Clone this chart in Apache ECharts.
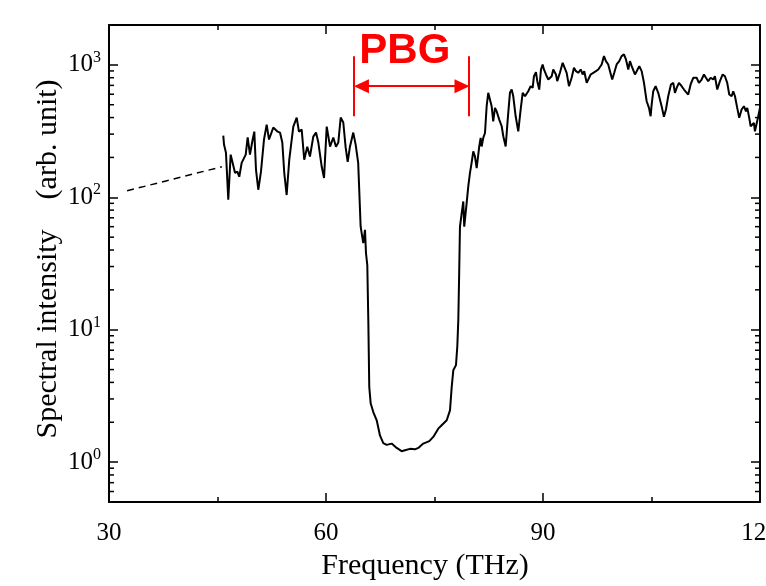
<!DOCTYPE html>
<html>
<head>
<meta charset="utf-8">
<script src="https://cdn.jsdelivr.net/npm/echarts@6/dist/echarts.min.js"></script>
<style>
  html, body { margin: 0; padding: 0; background: #fff; }
  #main { width: 766px; height: 586px; }
</style>
</head>
<body>
<div id="main"></div>
<script>
// measured spectrum (THz, arb. unit)
var freq = [
  45.80, 45.90, 46.17, 46.49, 46.82, 47.04, 47.42, 47.74, 48.01, 48.34,
  48.56, 48.90, 49.17, 49.49, 49.86, 50.09, 50.32, 50.64, 51.01, 51.43,
  51.80, 52.12, 52.71, 53.32, 53.64, 53.96, 54.23, 54.56, 54.92, 55.48,
  55.95, 56.26, 56.64, 56.99, 57.41, 57.78, 58.24, 58.62, 58.94, 59.41,
  59.73, 60.10, 60.32, 60.56, 61.01, 61.38, 61.70, 62.03, 62.39, 62.72,
  63.00, 63.31, 63.77, 64.10, 64.45,
  64.79, 65.15, 65.39, 65.53, 65.71, 65.85, 65.98, 66.18, 66.54, 67.01,
  67.46, 67.92, 68.39, 69.08, 69.77, 70.46, 70.92, 71.61, 72.30, 72.76,
  73.45, 74.28, 74.83, 75.52, 75.99, 76.69, 77.14, 77.38, 77.60, 77.97,
  78.15, 78.29, 78.42, 78.52, 78.76, 78.98, 79.11, 79.44, 79.67, 79.90,
  80.13, 80.36, 80.59, 80.83, 81.19,
  81.38, 81.52, 81.74, 81.98, 82.21, 82.43, 82.67, 82.90, 83.12, 83.36,
  83.59, 83.95, 84.29, 84.51, 84.84, 85.12, 85.43, 85.67, 85.89, 86.22,
  86.58, 86.91, 87.19, 87.51, 87.96, 88.29, 88.57, 88.75, 89.03, 89.21,
  89.48, 89.72, 89.95, 90.13, 90.41, 90.73, 90.96, 91.20, 91.42, 91.79,
  91.97, 92.34, 92.72, 92.94, 93.27, 93.59, 93.96, 94.28, 94.56, 94.87,
  95.21, 95.48, 95.70, 96.04, 96.26, 96.59, 96.95, 97.32, 97.64,
  97.87, 98.11, 98.43, 98.70, 99.02, 99.26, 99.57, 99.85, 100.18, 100.54,
  100.87, 101.19, 101.47, 101.79, 102.02, 102.26, 102.48, 102.71, 102.95, 103.31,
  103.64, 103.96, 104.33, 104.65, 104.88, 105.02, 105.24, 105.57, 105.93, 106.40,
  106.72, 107.00, 107.31, 107.69, 108.01, 108.24, 108.48, 108.79, 109.17, 109.49,
  109.76, 110.08, 110.41, 110.77, 111.24, 111.56, 111.93, 112.25, 112.53, 112.84,
  113.18, 113.54, 113.77, 114.09, 114.46, 114.84, 115.15, 115.47, 115.75, 116.08,
  116.30, 116.54, 116.85, 117.13, 117.46, 117.78, 118.06, 118.24, 118.51, 118.71,
  118.98, 119.16, 119.30, 119.54, 119.76, 119.99
];
var intensity = [
  292, 250, 217, 96, 210, 203, 153, 156, 143, 182,
  176, 210, 283, 210, 273, 313, 162, 114, 156, 273,
  354, 273, 336, 313, 308, 259, 153, 104, 192, 342,
  400, 313, 324, 192, 241, 203, 287, 308, 259, 170,
  140, 342, 354, 241, 283, 241, 259, 400, 367, 237,
  185, 241, 308, 250, 182,
  60, 45, 56.8, 37.8, 30.8, 11.8, 3.70, 2.77, 2.39, 2.07,
  1.59, 1.39, 1.35, 1.38, 1.28, 1.21, 1.23, 1.26, 1.25, 1.28,
  1.38, 1.44, 1.55, 1.79, 1.90, 2.07, 2.46, 3.70, 4.94, 5.40,
  7.43, 11.8, 28.3, 60, 75.9, 93, 60, 90, 121, 152,
  182, 222, 204, 166, 243,
  281, 242, 281, 306, 487, 615, 615, 487, 375, 473,
  446, 386, 344, 289, 242, 386, 615, 651, 579, 409,
  315, 460, 615, 579, 632, 690, 671, 821, 880, 753,
  651, 923, 1007, 923, 846, 775, 753, 821, 923, 846,
  753, 871, 1037, 1007, 871, 690, 799, 951, 896, 871,
  923, 846, 896, 732, 775, 846, 871, 896, 923,
  896, 1007, 1164, 1067, 1007, 896, 775, 871, 1007, 1067,
  1164, 1199, 1099, 923, 1067, 978, 1007, 846, 896, 978,
  896, 732, 531, 473, 409, 501, 632, 690, 615, 487,
  405, 460, 579, 711, 732, 615, 671, 732, 690, 651,
  671, 597, 711, 799, 799, 732, 775, 846, 799, 753,
  799, 775, 821, 651, 753, 846, 821, 732, 597, 579,
  632, 579, 473, 398, 460, 487, 446, 473, 398, 344,
  334, 365, 315, 324, 409, 473
];
// dashed extrapolation toward low frequency
var dashFreq = [32.5, 45.6];
var dashIntensity = [112, 170];
// photonic band gap marker
var pbgRange = [63.9, 79.8];
var pbgArrowLevel = 690;
var pbgBar = [410, 1160];
var pbgLabelPos = [70.9, 1265];
// axis ticks
var xTicks = [30, 60, 90, 120];
var yMajor = [1, 10, 100, 1000];
var yMinor = [0.6, 0.7, 0.8, 0.9, 2, 3, 4, 5, 6, 7, 8, 9,
  20, 30, 40, 50, 60, 70, 80, 90, 200, 300, 400, 500, 600, 700, 800, 900];

var serif = '"Liberation Serif", "Times New Roman", serif';

function pairs(xs, ys) {
  var out = [];
  for (var i = 0; i < xs.length; i++) out.push([xs[i], ys[i]]);
  return out;
}

function yLabel(v) {
  var e = Math.round(Math.log(v) / Math.LN10);
  if (Math.abs(v - Math.pow(10, e)) > 1e-6 * v || yMajor.indexOf(Math.pow(10, e)) < 0) return '';
  return '{b|10}{s|' + e + '}';
}

var myChart = echarts.init(document.getElementById('main'));

var xBase = {
  type: 'value', min: xTicks[0], max: xTicks[xTicks.length - 1], interval: 30,
  axisLine: { show: true, onZero: false, lineStyle: { color: '#000', width: 2 } },
  axisTick: { show: true, inside: true, length: 9, lineStyle: { color: '#000', width: 1.5 } },
  minorTick: { show: true, splitNumber: 2, length: 5, lineStyle: { color: '#000', width: 1.5 } },
  splitLine: { show: false }
};
var yBase = {
  type: 'log', logBase: 10, min: 0.5, max: 2000,
  axisLine: { show: true, onZero: false, lineStyle: { color: '#000', width: 2 } },
  axisTick: { show: true, inside: true, length: 9, lineStyle: { color: '#000', width: 1.5 } },
  splitLine: { show: false }
};

var option = {
  backgroundColor: '#fff',
  animation: false,
  grid: { left: 109, right: 6, top: 25, bottom: 84, containLabel: false, outerBoundsMode: 'none' },
  xAxis: [
    echarts.util.merge({
      position: 'bottom',
      axisLabel: { margin: 19, fontFamily: serif, fontSize: 25, color: '#000' }
    }, xBase, true),
    echarts.util.merge({ position: 'top', axisLabel: { show: false } }, xBase, true)
  ],
  yAxis: [
    echarts.util.merge({
      position: 'left',
      axisLabel: {
        margin: 8, formatter: yLabel, color: '#000',
        rich: {
          b: { fontFamily: serif, fontSize: 25, color: '#000' },
          s: { fontFamily: serif, fontSize: 16, color: '#000', padding: [0, 0, 14, 0] }
        }
      }
    }, yBase, true),
    echarts.util.merge({ position: 'right', axisLabel: { show: false } }, yBase, true)
  ],
  graphic: [
    {
      type: 'text', x: 48, y: 259, rotation: Math.PI / 2,
      style: {
        text: 'Spectral intensity    (arb. unit)',
        font: '30px ' + serif, fill: '#000',
        textAlign: 'center', textVerticalAlign: 'middle'
      }
    },
    {
      type: 'text', x: 425, y: 566,
      style: {
        text: 'Frequency (THz)',
        font: '30px ' + serif, fill: '#000',
        textAlign: 'center', textVerticalAlign: 'middle'
      }
    }
  ],
  series: [
    {
      name: 'spectrum', type: 'line', data: pairs(freq, intensity),
      showSymbol: false, symbol: 'none', smooth: false,
      lineStyle: { color: '#000', width: 2 },
      z: 3,
      markLine: {
        silent: true, animation: false,
        symbol: ['none', 'none'],
        lineStyle: { color: '#ff0000', width: 2, type: 'solid' },
        label: { show: false },
        data: [
          [{ coord: [pbgRange[0], pbgBar[0]] }, { coord: [pbgRange[0], pbgBar[1]] }],
          [{ coord: [pbgRange[1], pbgBar[0]] }, { coord: [pbgRange[1], pbgBar[1]] }],
          [{ coord: [pbgRange[0] + 1, pbgArrowLevel], symbol: 'triangle', symbolSize: [14, 15] },
           { coord: [pbgRange[1] - 1, pbgArrowLevel], symbol: 'triangle', symbolSize: [14, 15] }]
        ]
      },
      markPoint: {
        silent: true, animation: false,
        symbol: 'circle', symbolSize: 0,
        label: {
          show: true, position: 'inside', formatter: 'PBG',
          fontFamily: '"Liberation Sans", Arial, sans-serif', fontWeight: 'bold',
          fontSize: 42, color: '#ff0000'
        },
        data: [{ coord: pbgLabelPos }]
      }
    },
    {
      name: 'extrapolation', type: 'line', data: pairs(dashFreq, dashIntensity),
      showSymbol: false, symbol: 'none',
      lineStyle: { color: '#000', width: 1.5, type: [7, 5] }
    },
    {
      name: 'minor ticks', type: 'custom', silent: true, clip: false,
      data: yMinor.map(function (v) { return [xTicks[0], v]; }),
      renderItem: function (params, api) {
        var v = api.value(1);
        var l = api.coord([xTicks[0], v]);
        var r = api.coord([xTicks[xTicks.length - 1], v]);
        return {
          type: 'group',
          children: [
            { type: 'line', shape: { x1: l[0], y1: l[1], x2: l[0] + 5, y2: l[1] }, style: { stroke: '#000', lineWidth: 1.5 } },
            { type: 'line', shape: { x1: r[0] - 5, y1: r[1], x2: r[0], y2: r[1] }, style: { stroke: '#000', lineWidth: 1.5 } }
          ]
        };
      }
    }
  ]
};
myChart.setOption(option);
</script>
</body>
</html>
